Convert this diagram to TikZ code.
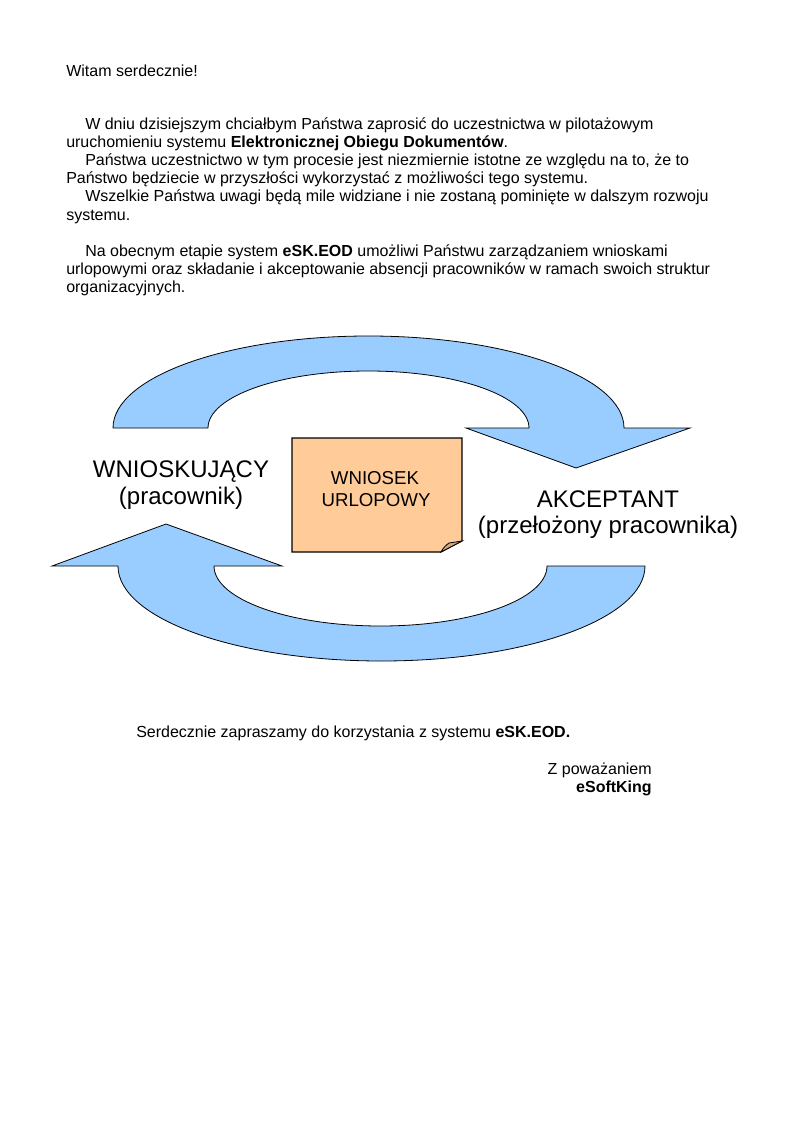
\documentclass[tikz,border=0pt]{standalone}
\usepackage{fontspec}
\setmainfont{Liberation Sans}
\definecolor{arrowblue}{RGB}{153,204,255}
\definecolor{notepeach}{RGB}{255,204,153}
\definecolor{noteflap}{RGB}{204,166,127}
\tikzset{
  body/.style={anchor=base west, inner sep=0pt, font=\fontsize{12}{13.8}\selectfont},
  bodyright/.style={anchor=base east, inner sep=0pt, font=\fontsize{12}{13.8}\selectfont},
  biglabel/.style={anchor=base, inner sep=0pt, font=\fontsize{18}{20.7}\selectfont},
  notelabel/.style={anchor=base, inner sep=0pt, font=\fontsize{14}{16}\selectfont},
  cyclearrow/.style={fill=arrowblue, draw=black, line width=0.6pt, line join=miter},
  notebody/.style={fill=notepeach, draw=black, line width=0.8pt},
  notefold/.style={fill=noteflap, draw=black, line width=0.6pt}
}
\begin{document}
\begin{tikzpicture}[x=0.75pt,y=-0.75pt]
\useasboundingbox (0,0) rectangle (794,1123);
\fill[white] (0,0) rectangle (794,1123);

% ---- letter text ----
\node[body] (greet) at (66,77) {Witam serdecznie!};
\node[body] (p1a) at (85,130) {W dniu dzisiejszym chciałbym Państwa zaprosić do uczestnictwa w pilotażowym};
\node[body] (p1b) at (66,148) {uruchomieniu systemu \textbf{Elektronicznej Obiegu Dokumentów}.};
\node[body] (p2a) at (85,166) {Państwa uczestnictwo w tym procesie jest niezmiernie istotne ze względu na to, że to};
\node[body] (p2b) at (66,184) {Państwo będziecie w przyszłości wykorzystać z możliwości tego systemu.};
\node[body] (p3a) at (85,202) {Wszelkie Państwa uwagi będą mile widziane i nie zostaną pominięte w dalszym rozwoju};
\node[body] (p3b) at (66,220) {systemu.};
\node[body] (p4a) at (85,256) {Na obecnym etapie system \textbf{eSK.EOD} umożliwi Państwu zarządzaniem wnioskami};
\node[body] (p4b) at (66,274) {urlopowymi oraz składanie i akceptowanie absencji pracowników w ramach swoich struktur};
\node[body] (p4c) at (66,292) {organizacyjnych.};

% ---- top cycle arrow ----
\path[cyclearrow]
  (113,428) .. controls (113,377.2) and (227.4,336) .. (368.5,336)
            .. controls (509.6,336) and (624,377.2) .. (624,428)
  -- (690,428) -- (576,468) -- (466,428) -- (529,428)
            .. controls (529,396.5) and (457.1,371) .. (368.5,371)
            .. controls (279.9,371) and (208,396.5) .. (208,428)
  -- cycle;

% ---- bottom cycle arrow ----
\path[cyclearrow]
  (547,566) -- (645,566)
            .. controls (645,618.5) and (527,661) .. (381.5,661)
            .. controls (236,661) and (118,618.5) .. (118,566)
  -- (52,566) -- (166,524) -- (282,566) -- (214,566)
            .. controls (214,599.1) and (288.5,626) .. (380.5,626)
            .. controls (472.5,626) and (547,599.1) .. (547,566)
  -- cycle;

% ---- note ----
\path[notebody] (292,438) -- (462,438) -- (462,541) -- (441,552) -- (292,552) -- cycle;
\path[notefold] (462,541) -- (449,543) .. controls (446,545) and (443,548) .. (441,552) -- cycle;
\node[notelabel] (noteA) at (375,484) {WNIOSEK};
\node[notelabel] (noteB) at (376,506) {URLOPOWY};

% ---- roles ----
\node[biglabel] (req) at (181,477) {WNIOSKUJĄCY};
\node[biglabel] (reqsub) at (181,504) {(pracownik)};
\node[biglabel] (acc) at (608,507) {AKCEPTANT};
\node[biglabel] (accsub) at (608,533) {(przełożony pracownika)};

% ---- closing ----
\node[body] (invite) at (136,737) {Serdecznie zapraszamy do korzystania z systemu \textbf{eSK.EOD.}};
\node[bodyright] (regards) at (652,774) {Z poważaniem};
\node[bodyright] (sign) at (652,792) {\textbf{eSoftKing}};
\end{tikzpicture}
\end{document}
